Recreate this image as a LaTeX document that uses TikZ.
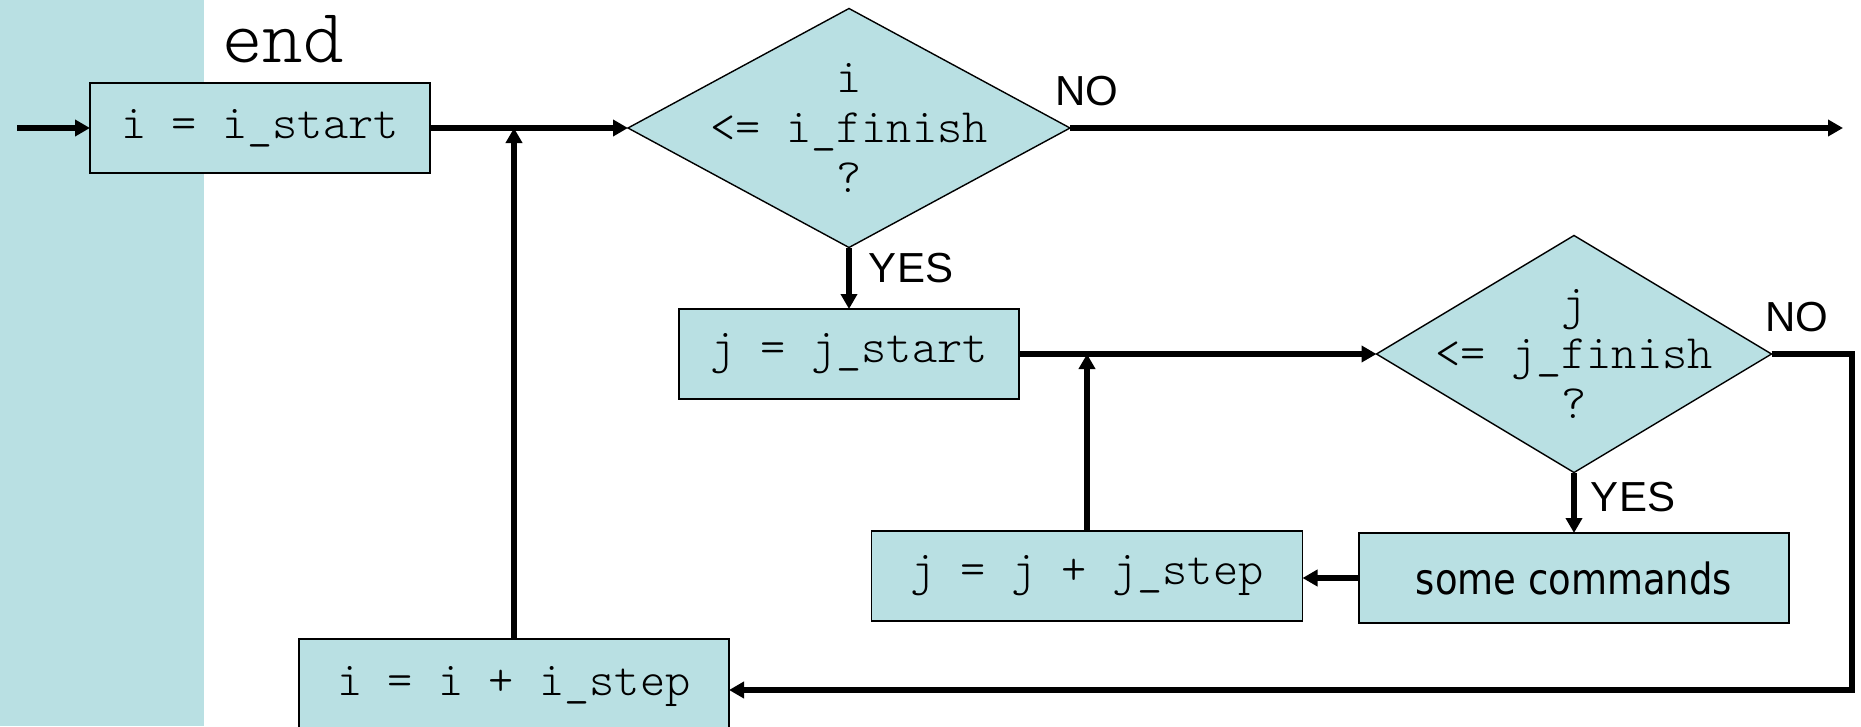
\documentclass[tikz,border=0pt]{standalone}
\usepackage{fontspec}
\setmainfont{Liberation Sans}
\newfontfamily\codefont{Latin Modern Mono Light}
\newfontfamily\boxsans[FakeStretch=0.86]{DejaVu Sans}
\usetikzlibrary{arrows.meta,shapes.geometric}
\definecolor{panelblue}{RGB}{185,224,227}
\tikzset{
  procbox/.style={draw=black, line width=1.8pt, fill=panelblue, rectangle,
    minimum width=340pt, minimum height=90pt, inner sep=0pt, outer sep=0pt,
    font=\codefont\fontsize{48}{52}\selectfont},
  testbox/.style={draw=black, line width=1.4pt, fill=panelblue, diamond,
    inner sep=0pt, outer sep=0pt},
  testtext/.style={align=center, inner sep=0pt,
    font=\codefont\fontsize{48}{50}\selectfont},
  answer/.style={inner sep=0pt, font=\fontsize{42}{46}\selectfont},
  conn/.style={line width=5.5pt, -{Triangle[length=15pt,width=16pt]}},
}
\begin{document}
\begin{tikzpicture}[x=1pt, y=-1pt]
  \clip (0,0) rectangle (1861,726);
  % shaded side panel
  \fill[panelblue] (0,0) rectangle (204,726);
  \node[anchor=base west, inner sep=0pt,
        font=\codefont\fontsize{77}{80}\selectfont] (endword) at (222,62) {end};

  % outer loop
  \node[procbox] (istart) at (260,128) {i = i\_start};
  \node[testbox, minimum width=442pt, minimum height=239pt] (d1) at (849,128) {};
  \node[testtext] (d1text) at (d1.center) {i\\<= i\_finish\\?};
  \node[procbox] (jstart) at (849,354) {j = j\_start};

  % inner loop
  \node[testbox, minimum width=395pt, minimum height=237pt] (d2) at (1574,354) {};
  \node[testtext] (d2text) at (d2.center) {j\\<= j\_finish\\?};
  \node[procbox, minimum width=430pt, font=\boxsans\fontsize{43}{48}\selectfont]
       (cmds) at (1574,578) {some commands};
  \node[procbox, minimum width=431pt] (jstep) at (1087,576) {j = j + j\_step};
  \node[procbox, minimum width=430pt, minimum height=94pt] (istep) at (514,686) {i = i + i\_step};

  % answer labels
  \node[answer] (no1) at (1087,91) {NO};
  \node[answer] (yes1) at (911,268) {YES};
  \node[answer] (no2) at (1797,317) {NO};
  \node[answer] (yes2) at (1633,497) {YES};

  % free ends of connectors
  \coordinate (entry) at (17,128);
  \coordinate (exit) at (1843,128);
  \coordinate (corner) at (1852,690);

  % connectors
  \draw[conn] (entry) -- (istart.west);
  \draw[conn] (istart.east) -- (d1.west);
  \draw[conn] (d1.east) -- (exit);
  \draw[conn] (d1.south) -- (jstart.north);
  \draw[conn] (jstart.east) -- (d2.west);
  \draw[conn] (d2.south) -- (cmds.north);
  \draw[conn] (cmds.west) -- (cmds.west -| jstep.east);
  \draw[conn] (jstep.north) -- (jstep.north |- jstart.east);
  \draw[conn] (d2.east) -| (corner) -- (corner -| istep.east);
  \draw[conn] (istep.north) -- (istep.north |- istart.east);
\end{tikzpicture}
\end{document}
